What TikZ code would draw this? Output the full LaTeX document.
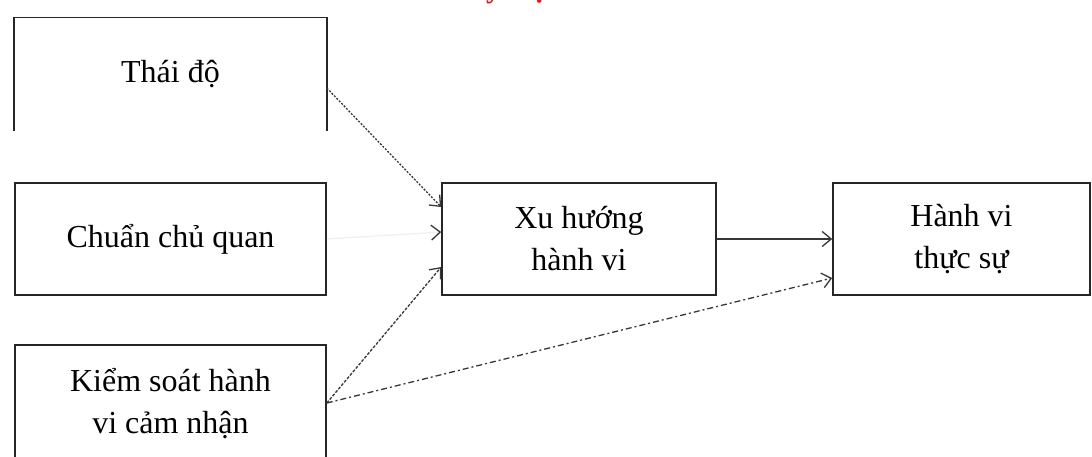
\documentclass[tikz,border=0pt]{standalone}
\usepackage{fontspec}
\setmainfont{Liberation Serif}
\usetikzlibrary{arrows.meta, positioning}
\definecolor{capred}{RGB}{240, 20, 20}
\definecolor{inkgray}{RGB}{55, 55, 55}

\begin{document}
\begin{tikzpicture}[
  x=1pt, y=-1pt,
  box/.style={draw=black!85, line width=1.6pt, inner sep=0pt, align=center,
    font=\fontsize{32}{42}\selectfont},
  lbox/.style={box, minimum width=311pt, minimum height=112pt},
  arr/.style={-{Straight Barb[length=9pt, width=15pt]}, line width=1.3pt, inkgray},
  farr/.style={-{Straight Barb[length=9pt, width=15pt, color=inkgray]}, line width=1.3pt, black!6}
]
  \useasboundingbox (0,0) rectangle (1092,457);

  % --- heading, mostly off the page ---
  \node[text=capred, font=\fontsize{30}{36}\selectfont\bfseries, anchor=base west, inner sep=0pt]
    (caption) at (486,-2) {y\hspace{31pt}ạ};

  % --- three antecedents ---
  \node[lbox, draw=none] (thaido) at (170.5,74.5) {Thái độ};
  \draw[black!85, line width=1.6pt] (thaido.south west) |- (thaido.north east) -- (thaido.south east);
  \node[lbox] (chuan) at (170.5,239) {Chuẩn chủ quan};
  \node[lbox, minimum height=118pt] (kiemsoat) at (170.5,404) {Kiểm soát hành\\vi cảm nhận};

  % --- intention and behaviour ---
  \node[box, minimum width=274pt, minimum height=112pt] (xuhuong) at (579,239) {Xu hướng\\hành vi};
  \node[box, minimum width=257pt, minimum height=112pt] (hanhvi) at (961.5,239) {Hành vi\\thực sự};

  % --- links ---
  \draw[arr, dash pattern=on 2pt off 1.5pt] ([yshift=-13.5pt]thaido.east) -- ([yshift=32pt]xuhuong.west);
  \draw[farr] (chuan.east) -- ([yshift=7pt]xuhuong.west);
  \draw[arr, dash pattern=on 3pt off 1.5pt] ([yshift=1pt]kiemsoat.east) -- ([yshift=-28pt]xuhuong.west);
  \draw[arr] (xuhuong.east) -- (hanhvi.west);
  \draw[arr, dash pattern=on 6pt off 3pt on 2pt off 3pt] ([yshift=1pt]kiemsoat.east) -- ([yshift=-39pt]hanhvi.west);
\end{tikzpicture}
\end{document}
